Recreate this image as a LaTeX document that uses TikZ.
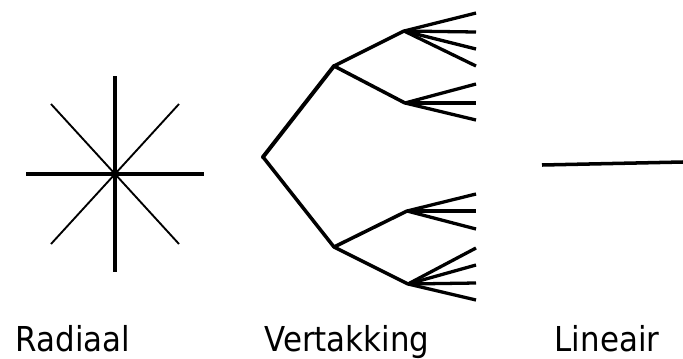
\documentclass[tikz,border=0pt]{standalone}
\usepackage{fontspec}
\setmainfont{DejaVu Sans Condensed}
\usetikzlibrary{positioning}
\tikzset{
    spoke/.style={line width=3pt},
    thinspoke/.style={line width=1.6pt},
    branch/.style={line width=3pt, line cap=round, line join=round},
    twig/.style={line width=2.8pt},
    caption/.style={anchor=base, font=\fontsize{29.3}{32}\selectfont}
}

\begin{document}
\begin{tikzpicture}[x=0.03cm, y=-0.03cm]
    \useasboundingbox (0,0) rectangle (683,358);
    % Radiaal
    \coordinate (hub) at (115,174);
    \draw[spoke] (hub) -- +(0,-98) (hub) -- +(0,98);
    \draw[spoke] (hub) -- +(-89,0) (hub) -- +(89,0);
    \foreach \dx/\dy in {64/70, -64/70, 64/-70, -64/-70} {
        \draw[thinspoke] (hub) -- +(\dx,\dy);
    }
    % Vertakking
    \coordinate (root) at (263,157);
    \coordinate (up) at (334,66);
    \coordinate (down) at (334,247);
    \coordinate (up1) at (404,31);
    \coordinate (up2) at (405,103);
    \coordinate (down1) at (407,211);
    \coordinate (down2) at (408,284);
    \draw[branch, line width=3.4pt] (root) -- (up);
    \draw[branch] (root) -- (down);
    \draw[branch] (up1) -- (up) -- (up2);
    \draw[branch] (down1) -- (down) -- (down2);
    \foreach \y in {13,32,49,66} {
        \draw[twig] (up1) -- (476,\y);
    }
    \foreach \y in {84,103,120} {
        \draw[twig] (up2) -- (476,\y);
    }
    \foreach \y in {194,211,229} {
        \draw[twig] (down1) -- (476,\y);
    }
    \foreach \y in {248,265,283,300} {
        \draw[twig] (down2) -- (476,\y);
    }
    % Lineair
    \coordinate (start) at (542,165);
    \coordinate (end) at (683,162);
    \draw[spoke] (start) -- (end);
    % Labels
    \node[caption] (radiaal) at (73,351.5) {Radiaal};
    \node[caption] (vertakking) at (347,351.5) {Vertakking};
    \node[caption] (lineair) at (607,351.5) {Lineair};
\end{tikzpicture}
\end{document}
